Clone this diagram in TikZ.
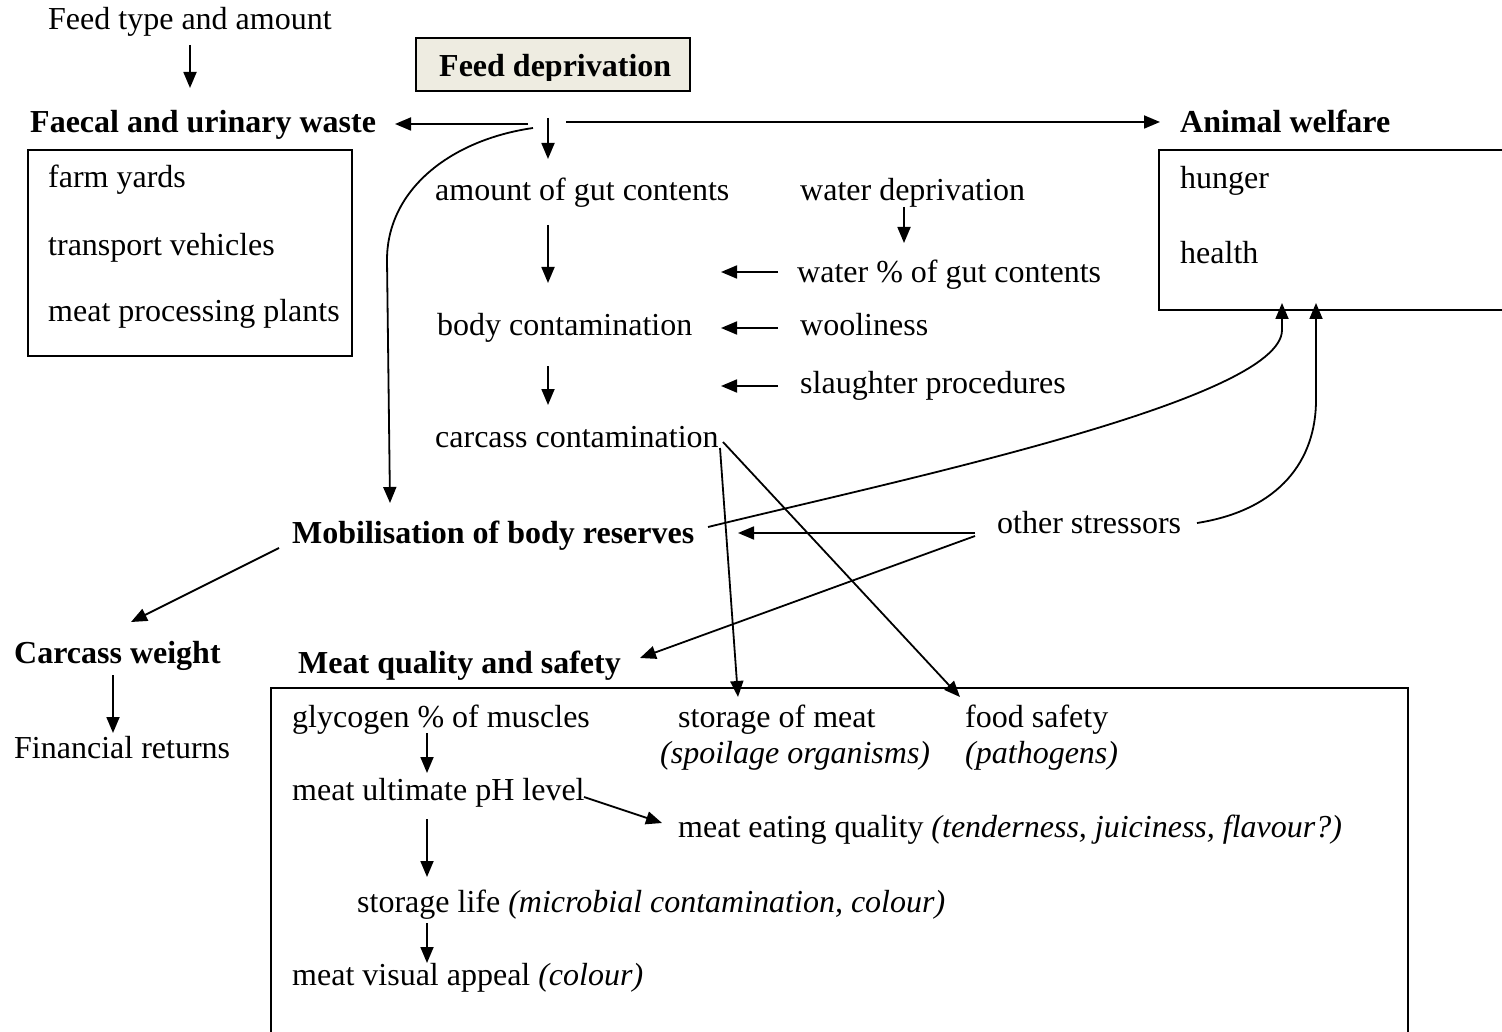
\documentclass[tikz,border=0pt]{standalone}
\usepackage{fontspec}
\setmainfont{Liberation Serif}
\usetikzlibrary{arrows.meta}
\definecolor{beige}{RGB}{238,236,225}
\begin{document}
\begin{tikzpicture}[x=1pt,y=-1pt,
  lbl/.style={inner sep=0pt,anchor=base west,font=\fontsize{32}{36}\selectfont},
  hdr/.style={lbl,font=\fontsize{32}{36}\selectfont\bfseries},
  conn/.style={line width=1.8pt},
  arr/.style={conn,-{Triangle[length=16pt,width=13pt]}},
  frame/.style={line width=1.8pt}]
\clip (0,0) rectangle (1502,1032);

% ---------- texts ----------
\node[lbl] (feedtype) at (48,30) {Feed type and amount};
\node[draw,frame,fill=beige,anchor=north west,minimum width=274pt,minimum height=53pt,inner sep=0pt] (fdbox) at (415,37) {};
\begin{scope}
  \clip (415,37) rectangle (689,81);
  \node[hdr] (fd) at (439,77) {Feed deprivation};
\end{scope}

\node[hdr] (faecal) at (30,133) {Faecal and urinary waste};
\node[hdr] (welfare) at (1180,133) {Animal welfare};

\draw[frame] (28,150) rectangle (352,356);
\node[lbl] (farm) at (48,188) {farm yards};
\node[lbl] (transport) at (48,256) {transport vehicles};
\node[lbl] (plants) at (48,322) {meat processing plants};

\draw[frame] (1515,150) -- (1159,150) -- (1159,310) -- (1515,310);
\node[lbl] (hunger) at (1180,189) {hunger};
\node[lbl] (health) at (1180,264) {health};

\node[lbl] (amount) at (435,201) {amount of gut contents};
\node[lbl] (waterdep) at (800,201) {water deprivation};
\node[lbl] (waterpct) at (797,283) {water \% of gut contents};
\node[lbl] (body) at (437,335) {body contamination};
\node[lbl] (wool) at (800,335) {wooliness};
\node[lbl] (slaughter) at (800,393) {slaughter procedures};
\node[lbl] (carcass) at (435,447) {carcass contamination};

\node[hdr] (mobil) at (292,543) {Mobilisation of body reserves};
\node[lbl] (stress) at (997,533) {other stressors};

\node[hdr] (cweight) at (14,663) {Carcass weight};
\node[lbl] (finance) at (14,758) {Financial returns};
\node[hdr] (mqs) at (298,673) {Meat quality and safety};

\draw[frame] (271,1045) -- (271,688) -- (1408,688) -- (1408,1045);
\node[lbl] (glyco) at (292,727) {glycogen \% of muscles};
\node[lbl] (storage) at (678,727) {storage of meat};
\node[lbl] (spoil) at (660,763) {\itshape (spoilage organisms)};
\node[lbl] (safety) at (965,727) {food safety};
\node[lbl] (patho) at (965,763) {\itshape (pathogens)};
\node[lbl] (ph) at (292,800) {meat ultimate pH level};
\node[lbl] (eating) at (678,837) {meat eating quality \textit{(tenderness, juiciness, flavour?)}};
\node[lbl] (life) at (357,912) {storage life \textit{(microbial contamination, colour)}};
\node[lbl] (visual) at (292,985) {meat visual appeal \textit{(colour)}};

% ---------- connector end points ----------
\coordinate (ft1) at (190,45);   \coordinate (ft2) at (190,88);
\coordinate (fdL) at (528,124);  \coordinate (faecalTip) at (395,124);
\coordinate (fdD) at (548,118);  \coordinate (fdDtip) at (548,159);
\coordinate (fdR) at (566,122);  \coordinate (welfareTip) at (1160,122);
\coordinate (wd1) at (904,207);  \coordinate (wd2) at (904,243);
\coordinate (am1) at (548,225);  \coordinate (am2) at (548,283);
\coordinate (wp1) at (778,272);  \coordinate (wp2) at (721,272);
\coordinate (wo1) at (778,328);  \coordinate (wo2) at (721,328);
\coordinate (bd1) at (548,366);  \coordinate (bd2) at (548,405);
\coordinate (sl1) at (778,386);  \coordinate (sl2) at (721,386);
\coordinate (cc1) at (720,448);  \coordinate (storTip) at (738,697);
\coordinate (cc2) at (723,442);  \coordinate (safeTip) at (960,697);
\coordinate (cv1) at (533,128);  \coordinate (cv2) at (387,260);  \coordinate (mobTip) at (390,503);
\coordinate (mb1) at (708,527);  \coordinate (mb2) at (1282,330); \coordinate (hungTip) at (1282,303);
\coordinate (os1) at (975,533);  \coordinate (mobR) at (738,533);
\coordinate (os2) at (975,536);  \coordinate (mqsTip) at (640,658);
\coordinate (os3) at (1197,523); \coordinate (os4) at (1316,400); \coordinate (healTip) at (1316,303);
\coordinate (mc1) at (279,548);  \coordinate (cwTip) at (131,622);
\coordinate (cw1) at (113,675);  \coordinate (cw2) at (113,733);
\coordinate (gl1) at (427,733);  \coordinate (gl2) at (427,773);
\coordinate (ph1) at (584,797);  \coordinate (ph2) at (662,823);
\coordinate (ph3) at (427,819);  \coordinate (ph4) at (427,877);
\coordinate (sl3) at (427,923);  \coordinate (sl4) at (427,963);

% ---------- connectors ----------
\draw[arr] (ft1) -- (ft2);
\draw[arr] (fdL) -- (faecalTip);
\draw[arr] (fdD) -- (fdDtip);
\draw[arr] (fdR) -- (welfareTip);
\draw[arr] (wd1) -- (wd2);
\draw[arr] (am1) -- (am2);
\draw[arr] (wp1) -- (wp2);
\draw[arr] (wo1) -- (wo2);
\draw[arr] (bd1) -- (bd2);
\draw[arr] (sl1) -- (sl2);
\draw[arr] (cc1) -- (storTip);
\draw[arr] (cc2) -- (safeTip);
\draw[arr] (cv1) .. controls (450,140) and (387,190) .. (cv2) -- (mobTip);
\draw[arr] (mb1) .. controls (900,480) and (1282,400) .. (mb2) -- (hungTip);
\draw[arr] (os1) -- (mobR);
\draw[arr] (os2) -- (mqsTip);
\draw[arr] (os3) .. controls (1280,510) and (1316,460) .. (os4) -- (healTip);
\draw[arr] (mc1) -- (cwTip);
\draw[arr] (cw1) -- (cw2);
\draw[arr] (gl1) -- (gl2);
\draw[arr] (ph1) -- (ph2);
\draw[arr] (ph3) -- (ph4);
\draw[arr] (sl3) -- (sl4);
\end{tikzpicture}
\end{document}
